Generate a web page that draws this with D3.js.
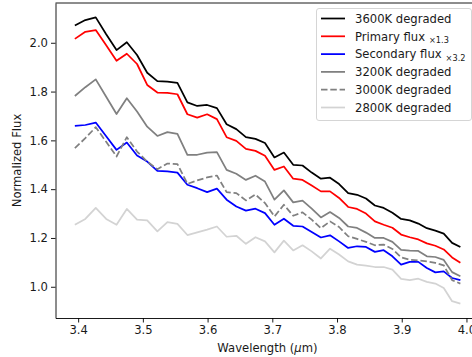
<!DOCTYPE html>
<html>
<head>
<meta charset="utf-8">
<script src="https://cdn.jsdelivr.net/npm/d3@7/dist/d3.min.js"></script>
<style>
body { margin: 0; background: #fff; }
svg text { font-family: "DejaVu Sans", sans-serif; fill: #1a1a1a; }
</style>
</head>
<body>
<svg id="chart" width="472" height="357"></svg>
<script>
// wavelength grid (micron)
var wavelength = [3.3949, 3.4111, 3.4272, 3.4433, 3.4593, 3.4752, 3.4910, 3.5067, 3.5224, 3.5379,
  3.5534, 3.5688, 3.5840, 3.5993, 3.6144, 3.6294, 3.6444, 3.6592, 3.6740, 3.6887,
  3.7033, 3.7179, 3.7323, 3.7467, 3.7609, 3.7751, 3.7892, 3.8032, 3.8172, 3.8310,
  3.8448, 3.8585, 3.8721, 3.8856, 3.8990, 3.9124, 3.9256, 3.9388, 3.9519, 3.9649,
  3.9778, 3.9906];

var flux3600 = [2.071, 2.093, 2.104, 2.035, 1.970, 2.002, 1.950, 1.877, 1.843, 1.841,
  1.836, 1.756, 1.741, 1.745, 1.732, 1.666, 1.646, 1.613, 1.606, 1.589,
  1.530, 1.550, 1.500, 1.497, 1.468, 1.443, 1.447, 1.421, 1.384, 1.377,
  1.362, 1.333, 1.323, 1.303, 1.278, 1.272, 1.259, 1.240, 1.230, 1.218,
  1.180, 1.163];

var fluxPrimary = [2.016, 2.045, 2.052, 1.990, 1.926, 1.955, 1.913, 1.827, 1.796, 1.795,
  1.789, 1.707, 1.693, 1.707, 1.687, 1.613, 1.598, 1.565, 1.557, 1.537,
  1.479, 1.493, 1.443, 1.438, 1.415, 1.391, 1.391, 1.364, 1.327, 1.319,
  1.300, 1.268, 1.254, 1.242, 1.214, 1.203, 1.194, 1.178, 1.168, 1.153,
  1.120, 1.098];

var fluxSecondary = [1.659, 1.663, 1.673, 1.617, 1.561, 1.591, 1.538, 1.513, 1.475, 1.473,
  1.468, 1.418, 1.404, 1.388, 1.402, 1.357, 1.329, 1.312, 1.320, 1.302,
  1.254, 1.279, 1.250, 1.247, 1.224, 1.202, 1.211, 1.186, 1.159, 1.166,
  1.163, 1.143, 1.150, 1.125, 1.091, 1.102, 1.102, 1.077, 1.059, 1.063,
  1.036, 1.027];

var flux3200 = [1.782, 1.818, 1.850, 1.779, 1.708, 1.773, 1.718, 1.656, 1.618, 1.634,
  1.627, 1.541, 1.541, 1.550, 1.552, 1.479, 1.463, 1.438, 1.455, 1.431,
  1.357, 1.395, 1.346, 1.353, 1.320, 1.284, 1.306, 1.282, 1.247, 1.241,
  1.222, 1.200, 1.200, 1.184, 1.151, 1.148, 1.147, 1.125, 1.122, 1.110,
  1.060, 1.043];

var flux3000 = [1.568, 1.609, 1.654, 1.594, 1.534, 1.613, 1.554, 1.513, 1.482, 1.505,
  1.503, 1.422, 1.436, 1.448, 1.456, 1.388, 1.384, 1.354, 1.378, 1.343,
  1.288, 1.336, 1.291, 1.305, 1.275, 1.240, 1.268, 1.245, 1.207, 1.196,
  1.184, 1.170, 1.173, 1.155, 1.121, 1.111, 1.108, 1.104, 1.098, 1.088,
  1.027, 1.013];

var flux2800 = [1.254, 1.278, 1.323, 1.278, 1.254, 1.319, 1.275, 1.272, 1.227, 1.265,
  1.258, 1.212, 1.223, 1.234, 1.247, 1.205, 1.209, 1.176, 1.203, 1.186,
  1.141, 1.189, 1.149, 1.170, 1.145, 1.116, 1.156, 1.132, 1.104, 1.091,
  1.087, 1.081, 1.081, 1.070, 1.032, 1.027, 1.033, 1.020, 1.013, 0.995,
  0.941, 0.931];

var xTicks = [3.4, 3.5, 3.6, 3.7, 3.8, 3.9, 4.0];
var yTicks = [1.0, 1.2, 1.4, 1.6, 1.8, 2.0];

var series = [
  {label: "3600K degraded", sub: "", values: flux3600, color: "#000000", dash: null},
  {label: "Primary flux", sub: "\u00d71.3", values: fluxPrimary, color: "#ff0000", dash: null},
  {label: "Secondary flux", sub: "\u00d73.2", values: fluxSecondary, color: "#0000ff", dash: null},
  {label: "3200K degraded", sub: "", values: flux3200, color: "#808080", dash: null},
  {label: "3000K degraded", sub: "", values: flux3000, color: "#808080", dash: "6.5,2.8"},
  {label: "2800K degraded", sub: "", values: flux2800, color: "#d3d3d3", dash: null}
];

// NB: "top" is taken by window.top, so use other names
var padL = 55.5, padT = 3, padB = 318, padR = 479.4;
var fs = 11.6;

var svg = d3.select("#chart");

var x = d3.scaleLinear().domain([3.365, 4.020]).range([padL, padR]);
var y = d3.scaleLinear().domain([0.872, 2.163]).range([padB, padT]);

var line = d3.line()
  .x(function(d, i) { return x(wavelength[i]); })
  .y(function(d) { return y(d); });

series.forEach(function(s) {
  svg.append("path")
    .datum(s.values)
    .attr("fill", "none")
    .attr("stroke", s.color)
    .attr("stroke-width", 1.75)
    .attr("stroke-linejoin", "round")
    .attr("stroke-dasharray", s.dash)
    .attr("d", line);
});

// axes
var xAxis = d3.axisBottom(x).tickValues(xTicks).tickSize(4.5).tickSizeOuter(0).tickPadding(3)
  .tickFormat(d3.format(".1f"));
var yAxis = d3.axisLeft(y).tickValues(yTicks).tickSize(4.5).tickSizeOuter(0).tickPadding(3)
  .tickFormat(d3.format(".1f"));

var gx = svg.append("g").attr("transform", "translate(0," + padB + ")").call(xAxis);
var gy = svg.append("g").attr("transform", "translate(" + padL + ",0)").call(yAxis);

[gx, gy].forEach(function(g) {
  g.selectAll("text").attr("font-size", fs).attr("font-family", "DejaVu Sans").style("fill", "#1a1a1a");
  g.selectAll("line").attr("stroke", "#000").attr("stroke-width", 0.9);
  g.select(".domain").attr("stroke", "#000").attr("stroke-width", 0.9);
});

// top + right spines
svg.append("line").attr("x1", padL).attr("x2", padR).attr("y1", padT).attr("y2", padT)
  .attr("stroke", "#000").attr("stroke-width", 0.9);
svg.append("line").attr("x1", padR).attr("x2", padR).attr("y1", padT).attr("y2", padB)
  .attr("stroke", "#000").attr("stroke-width", 0.9);

// axis labels
var xl = svg.append("text")
  .attr("x", (padL + padR) / 2).attr("y", 352)
  .attr("text-anchor", "middle").attr("font-size", fs);
xl.append("tspan").text("Wavelength (");
xl.append("tspan").attr("font-style", "italic").text("\u03bc");
xl.append("tspan").text("m)");

svg.append("text")
  .attr("transform", "translate(21," + ((padT + padB) / 2) + ") rotate(-90)")
  .attr("text-anchor", "middle").attr("font-size", fs)
  .text("Normalized Flux");

// legend
var lg = svg.append("g");
lg.append("rect")
  .attr("x", 316.5).attr("y", 8.5).attr("width", 155).attr("height", 112)
  .attr("rx", 2.5).attr("fill", "#fff").attr("fill-opacity", 0.85)
  .attr("stroke", "#d0d0d0").attr("stroke-width", 0.9);

series.forEach(function(s, i) {
  var cy = 18.5 + i * 17.8;
  lg.append("line")
    .attr("x1", 321).attr("x2", 345).attr("y1", cy).attr("y2", cy)
    .attr("stroke", s.color).attr("stroke-width", 1.75)
    .attr("stroke-dasharray", s.dash);
  var t = lg.append("text").attr("x", 355).attr("y", cy + 4.2).attr("font-size", fs);
  t.append("tspan").text(s.label);
  if (s.sub) {
    t.append("tspan").attr("dx", 4).attr("dy", 2.5).attr("font-size", 8.2).text(s.sub);
  }
});
</script>
</body>
</html>
